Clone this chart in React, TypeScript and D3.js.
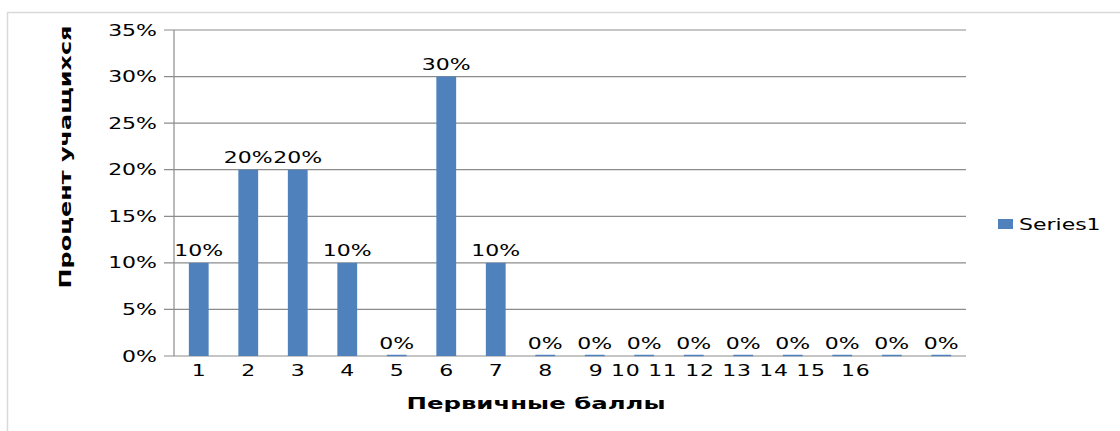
import React from "react";
import * as d3 from "d3";

const categories = ["1", "2", "3", "4", "5", "6", "7", "8", "9", "10", "11", "12", "13", "14", "15", "16"];
const values = [10, 20, 20, 10, 0, 30, 10, 0, 0, 0, 0, 0, 0, 0, 0, 0];
const yTicks = [0, 5, 10, 15, 20, 25, 30, 35];
const xTickLabels = ["1", "2", "3", "4", "5", "6", "7", "8", "9 10 11 12 13 14 15  16", "", "", "", "", "", "", ""];
const seriesName = "Series1";
const yTitle = "Процент учащихся";
const xTitle = "Первичные баллы";

const W = 1120;
const H = 431;
const FONT = "'DejaVu Sans', Verdana, sans-serif";
const BAR = "#4F81BD";
const GRID = "#8c8c8c";
const SX = 1.42;

function SText({ x, y, anchor = "middle", size = 15.5, weight = "normal", len, children }: any) {
  return (
    <text
      transform={`translate(${x},${y}) scale(${SX},1)`}
      textAnchor={anchor}
      fontSize={size}
      fontWeight={weight}
      fontFamily={FONT}
      fill="#000"
      style={{ whiteSpace: "pre" }}
      textLength={len ? len / SX : undefined}
      lengthAdjust={len ? "spacing" : undefined}
    >
      {children}
    </text>
  );
}

export default function App() {
  const x = d3.scaleBand<string>().domain(categories).range([174, 966]).paddingInner(0.6).paddingOuter(0.3);
  const y = d3.scaleLinear().domain([0, 35]).range([356, 30]);
  const bw = x.bandwidth();

  return (
    <svg width={W} height={H} style={{ position: "absolute", left: 0, top: 0, background: "#fff" }}>
      <rect x={7.5} y={12.5} width={1300} height={600} fill="#fff" stroke="#d9d9d9" strokeWidth={1.5} />
      {yTicks.map((t) => (
        <g key={t}>
          <line x1={164} x2={x.range()[1]} y1={y(t)} y2={y(t)} stroke={GRID} strokeWidth={1.2} />
          <SText x={157} y={y(t) + 5.5} anchor="end">{`${t}%`}</SText>
        </g>
      ))}
      <line x1={174} x2={174} y1={y(35)} y2={y(0)} stroke={GRID} strokeWidth={1.2} />
      {categories.map((c, i) => {
        const v = values[i];
        const cx = (x(c) as number) + bw / 2;
        const long = xTickLabels[i].length > 2;
        return (
          <g key={c}>
            {v > 0 ? (
              <rect x={x(c)} y={y(v)} width={bw} height={y(0) - y(v)} fill={BAR} />
            ) : (
              <line x1={x(c)} x2={(x(c) as number) + bw} y1={y(0) - 0.5} y2={y(0) - 0.5} stroke={BAR} strokeWidth={1.5} />
            )}
            <SText x={cx} y={y(v) - 7}>{`${v}%`}</SText>
            {xTickLabels[i] !== "" && (
              <SText x={long ? cx - 6 : cx} y={376} anchor={long ? "start" : "middle"} len={long ? 281 : undefined}>
                {xTickLabels[i]}
              </SText>
            )}
          </g>
        );
      })}
      <text
        transform={`translate(71,157) rotate(-90)`}
        textAnchor="middle"
        fontSize={15.5}
        fontWeight="bold"
        fontFamily={FONT}
        textLength={263}
        lengthAdjust="spacingAndGlyphs"
      >
        {yTitle}
      </text>
      <text
        x={536}
        y={409}
        textAnchor="middle"
        fontSize={15.5}
        fontWeight="bold"
        fontFamily={FONT}
        textLength={259}
        lengthAdjust="spacingAndGlyphs"
      >
        {xTitle}
      </text>
      <rect x={998} y={219} width={15} height={10} fill={BAR} />
      <SText x={1019} y={230} anchor="start" size={15.5}>{seriesName}</SText>
    </svg>
  );
}
